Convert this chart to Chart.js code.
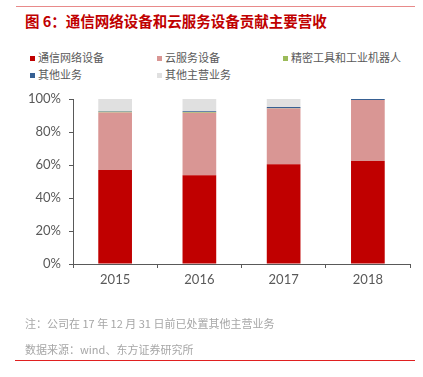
<!DOCTYPE html>
<html>
<head>
<meta charset="utf-8">
<script src="https://cdn.jsdelivr.net/npm/chart.js@4.4.0/dist/chart.umd.min.js"></script>
<style>
html,body{margin:0;padding:0;background:#fff;}
#wrap{position:relative;width:423px;height:377px;overflow:hidden;font-family:"Noto Sans CJK SC","Noto Sans",sans-serif;}
#c{position:absolute;left:0;top:0;}
.line{position:absolute;height:1px;}
#title{position:absolute;left:25px;top:10px;font-size:14.5px;font-weight:bold;color:#C00000;white-space:nowrap;line-height:22px;}
.lg{position:absolute;font-size:11px;color:#595959;white-space:nowrap;line-height:14px;}
.lg span{display:inline-block;width:5px;height:5px;margin-right:3px;vertical-align:middle;position:relative;top:-1px;}
.note{position:absolute;left:25px;font-size:11px;color:#a6a6a6;white-space:nowrap;line-height:14px;}
</style>
</head>
<body>
<div id="wrap">
  <div class="line" style="left:16px;top:6px;width:399px;background:#E88A8A;"></div>
  <div id="title">图 6：通信网络设备和云服务设备贡献主要营收</div>
  <div id="legend"></div>
  <canvas id="c" width="423" height="377"></canvas>
  <div class="note" style="top:316px;">注：公司在 17 年 12 月 31 日前已处置其他主营业务</div>
  <div class="note" style="top:342px;">数据来源：wind、东方证券研究所</div>
  <div class="line" style="left:15px;top:360px;width:400px;background:#E02020;"></div>
</div>
<script>
const categories = ["2015", "2016", "2017", "2018"];
const seriesNames = ["通信网络设备", "云服务设备", "精密工具和工业机器人", "其他业务", "其他主营业务"];
const seriesColors = ["#C00000", "#D99694", "#9BBB59", "#376092", "#E0E0E0"];
const commNetwork = [56.9, 53.8, 60.4, 62.4];
const cloudService = [34.9, 37.8, 33.9, 37.0];
const precisionRobot = [0.5, 0.5, 0.1, 0.0];
const otherBusiness = [0.3, 0.5, 0.7, 0.6];
const otherMain = [7.4, 7.4, 4.9, 0.0];
const yTicks = [0, 20, 40, 60, 80, 100];

const seriesData = [commNetwork, cloudService, precisionRobot, otherBusiness, otherMain];

// legend (HTML grid)
const legendPos = [[30, 50], [157, 50], [283, 50], [30, 67], [157, 67]];
const lg = document.getElementById('legend');
seriesNames.forEach((n, i) => {
  const d = document.createElement('div');
  d.className = 'lg';
  d.style.left = legendPos[i][0] + 'px';
  d.style.top = legendPos[i][1] + 'px';
  d.innerHTML = '<span style="background:' + seriesColors[i] + '"></span>' + n;
  lg.appendChild(d);
});

const tickFont = {family: "Lato, 'Open Sans', sans-serif", size: 13};
new Chart(document.getElementById('c'), {
  type: 'bar',
  data: {
    labels: categories,
    datasets: seriesNames.map((n, i) => ({
      label: n,
      data: seriesData[i],
      backgroundColor: seriesColors[i],
      borderWidth: 0,
      barPercentage: 0.4,
      categoryPercentage: 1.0
    }))
  },
  options: {
    responsive: false,
    animation: false,
    layout: {padding: {left: 0, right: 13, top: 99, bottom: 83}},
    plugins: {legend: {display: false}, tooltip: {enabled: false}},
    scales: {
      x: {
        stacked: true,
        grid: {display: true, drawOnChartArea: false, drawTicks: true, tickLength: 4, color: '#595959', offset: true},
        border: {display: true, color: '#595959', width: 1},
        ticks: {color: '#595959', font: tickFont, padding: 4},
        afterFit: s => { s.height = 30; }
      },
      y: {
        stacked: true,
        min: 0, max: 100,
        afterBuildTicks: s => { s.ticks = yTicks.map(v => ({value: v})); },
        grid: {display: true, drawOnChartArea: false, drawTicks: true, tickLength: 4, color: '#595959'},
        border: {display: true, color: '#595959', width: 1},
        ticks: {color: '#595959', font: tickFont, padding: 8, callback: v => v + '%'},
        afterFit: s => { s.width = 73; }
      }
    }
  }
});
</script>
</body>
</html>
